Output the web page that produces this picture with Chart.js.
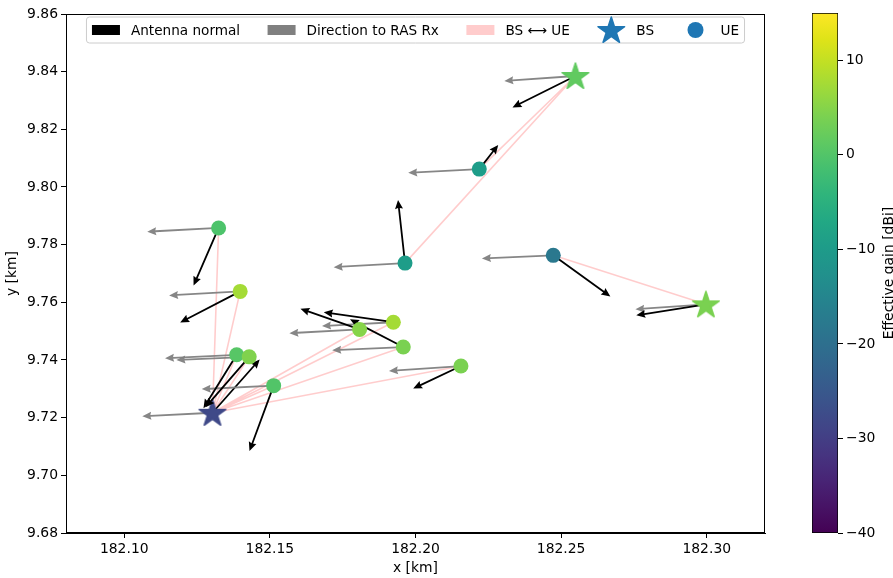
<!DOCTYPE html>
<html>
<head>
<meta charset="utf-8">
<script src="https://cdn.jsdelivr.net/npm/chart.js@4.4.1/dist/chart.umd.min.js"></script>
<style>
  html, body { margin: 0; padding: 0; background: #fff; }
  #wrap { position: relative; width: 893px; height: 578px; }
  #main { position: absolute; left: 0; top: 0; }
  #cbar { position: absolute; left: 780px; top: 0; }
</style>
</head>
<body>
<div id="wrap">
  <canvas id="main" width="780" height="578"></canvas>
  <canvas id="cbar" width="113" height="578"></canvas>
</div>
<script>
// ---- data (km / dBi) ----
const xTicks = [182.10, 182.15, 182.20, 182.25, 182.30];
const yTicks = [9.68, 9.70, 9.72, 9.74, 9.76, 9.78, 9.80, 9.82, 9.84, 9.86];
const cbarTicks = [-40, -30, -20, -10, 0, 10];

const bsX = [182.1303, 182.2549, 182.2997];
const bsY = [9.7217, 9.8385, 9.7593];
const bsGain = [-28, 1.5, 4];
const bsNormU = [0.0162, -0.0216, -0.0239];
const bsNormV = [0.0185, -0.0109, -0.0038];
const bsRasU = [-0.0241, -0.0244, -0.0242];
const bsRasV = [-0.0012, -0.0017, -0.0017];

const ueX = [182.1324, 182.1398, 182.1386, 182.1429, 182.1513, 182.1808, 182.1924, 182.1958, 182.2156, 182.1964, 182.2219, 182.2473];
const ueY = [9.7858, 9.7638, 9.7418, 9.7411, 9.7311, 9.7506, 9.7531, 9.7445, 9.7379, 9.7736, 9.8062, 9.7763];
const ueGain = [-0.5, 7.5, 0.5, 4.5, 0, 5, 7.5, 4, 4, -9.5, -9.5, -18];
const ueBs = [0, 0, 0, 0, 0, 0, 0, 0, 0, 1, 1, 2];
const ueNormU = [-0.0086, -0.0206, -0.0114, -0.0150, -0.0083, -0.0203, -0.0239, -0.0183, -0.0164, -0.0024, 0.0065, 0.0196];
const ueNormV = [-0.0200, -0.0108, -0.0185, -0.0175, -0.0227, 0.0072, 0.0035, 0.0096, -0.0078, 0.0219, 0.0084, -0.0143];
const ueRasU = [-0.0245, -0.0244, -0.0246, -0.0250, -0.0247, -0.0241, -0.0245, -0.0244, -0.0247, -0.0245, -0.0244, -0.0245];
const ueRasV = [-0.0013, -0.0014, -0.0012, -0.0011, -0.0012, -0.0013, -0.0013, -0.0011, -0.0017, -0.0014, -0.0013, -0.0011];

const cbarMin = -40, cbarMax = 15;

// ---- helpers ----
const VIR = ['#440154','#471365','#482475','#463480','#414487','#3b528b','#355f8d','#2f6c8e','#2a788e','#25848e',
             '#21918c','#1e9c89','#22a884','#2fb47c','#44bf70','#5ec962','#7ad151','#9bd93c','#bddf26','#dfe318','#fde725'];
function hex2rgb(h) { return [1, 3, 5].map(i => parseInt(h.substr(i, 2), 16)); }
function viridis(v) {
  let t = (v - cbarMin) / (cbarMax - cbarMin);
  t = Math.max(0, Math.min(1, t)) * (VIR.length - 1);
  const i = Math.min(Math.floor(t), VIR.length - 2), f = t - i;
  const a = hex2rgb(VIR[i]), b = hex2rgb(VIR[i + 1]);
  return 'rgb(' + a.map((c, k) => Math.round(c + (b[k] - c) * f)).join(',') + ')';
}

function starPath(ctx, cx, cy, R) {
  const r = R * 0.382;
  ctx.beginPath();
  for (let k = 0; k < 10; k++) {
    const ang = -Math.PI / 2 + k * Math.PI / 5;
    const rr = k % 2 === 0 ? R : r;
    const px = cx + rr * Math.cos(ang), py = cy + rr * Math.sin(ang);
    k === 0 ? ctx.moveTo(px, py) : ctx.lineTo(px, py);
  }
  ctx.closePath();
}
function fillStar(ctx, cx, cy, R, color) {
  starPath(ctx, cx, cy, R);
  ctx.fillStyle = color;
  ctx.fill();
  ctx.strokeStyle = color;
  ctx.lineWidth = 1.5;
  ctx.lineJoin = 'round';
  ctx.stroke();
}
function starImage(color) {
  const c = document.createElement('canvas');
  c.width = 34; c.height = 34;
  fillStar(c.getContext('2d'), 17, 18, 14, color);
  return c;
}

function drawArrow(ctx, x0, y0, x1, y1, color) {
  const dx = x1 - x0, dy = y1 - y0, L = Math.hypot(dx, dy);
  if (L < 1) return;
  const ux = dx / L, uy = dy / L, px = -uy, py = ux;
  const hw = 0.9, hl = Math.min(9, L), ha = hl * 0.9, hh = 4;
  const pts = [
    [x0 + px * hw, y0 + py * hw],
    [x1 - ux * ha + px * hw, y1 - uy * ha + py * hw],
    [x1 - ux * hl + px * hh, y1 - uy * hl + py * hh],
    [x1, y1],
    [x1 - ux * hl - px * hh, y1 - uy * hl - py * hh],
    [x1 - ux * ha - px * hw, y1 - uy * ha - py * hw],
    [x0 - px * hw, y0 - py * hw]
  ];
  ctx.beginPath();
  pts.forEach((p, i) => i ? ctx.lineTo(p[0], p[1]) : ctx.moveTo(p[0], p[1]));
  ctx.closePath();
  ctx.fillStyle = color;
  ctx.fill();
}

Chart.defaults.font.family = 'DejaVu Sans';
Chart.defaults.font.size = 13.9;
Chart.defaults.color = '#000';

// BS <-> UE link segments, broken by empty points
const links = [];
ueX.forEach((x, i) => {
  links.push({ x: bsX[ueBs[i]], y: bsY[ueBs[i]] }, { x: x, y: ueY[i] }, { x: null, y: null });
});

const GRAY = 'rgba(128,128,128,0.95)';
function drawQuivers(chart, xs0, ys0, us, vs, color) {
  const xs = chart.scales.x, ys = chart.scales.y, ctx = chart.ctx;
  xs0.forEach((x, i) => drawArrow(ctx,
    xs.getPixelForValue(x), ys.getPixelForValue(ys0[i]),
    xs.getPixelForValue(x + us[i]), ys.getPixelForValue(ys0[i] + vs[i]), color));
}

// BS arrows go under the star markers, UE arrows above them (but under UE dots)
const arrowPlugin = {
  id: 'arrows',
  beforeDatasetDraw(chart, args) {
    if (chart.data.datasets[args.index].label !== 'BS') return;
    chart.ctx.save();
    drawQuivers(chart, bsX, bsY, bsRasU, bsRasV, GRAY);
    drawQuivers(chart, bsX, bsY, bsNormU, bsNormV, '#000');
    chart.ctx.restore();
  },
  afterDatasetDraw(chart, args) {
    if (chart.data.datasets[args.index].label !== 'BS') return;
    chart.ctx.save();
    drawQuivers(chart, ueX, ueY, ueRasU, ueRasV, GRAY);
    drawQuivers(chart, ueX, ueY, ueNormU, ueNormV, '#000');
    chart.ctx.restore();
  }
};

const framePlugin = {
  id: 'frame',
  afterDraw(chart) {
    const { left, right, top, bottom } = chart.chartArea;
    const ctx = chart.ctx;
    ctx.save();
    ctx.strokeStyle = '#000';
    ctx.lineWidth = 1;
    ctx.strokeRect(Math.round(left) + 0.5, Math.round(top) + 0.5, Math.round(right - left) - 1, Math.round(bottom - top) - 1);
    ctx.restore();
  }
};

const legendItems = [
  { kind: 'rect', color: '#000', text: 'Antenna normal' },
  { kind: 'rect', color: '#808080', text: 'Direction to RAS Rx' },
  { kind: 'rect', color: '#ffcccc', text: 'BS \u27F7 UE' },
  { kind: 'star', color: '#1f77b4', text: 'BS' },
  { kind: 'circle', color: '#1f77b4', text: 'UE' }
];
const legendPlugin = {
  id: 'mplLegend',
  afterDraw(chart) {
    const ctx = chart.ctx, area = chart.chartArea;
    const fs = 13.6, handle = 28, tpad = 11, colsp = 27.5, pad = 5.5;
    ctx.save();
    ctx.font = fs + 'px "DejaVu Sans"';
    let total = 0;
    legendItems.forEach((it, i) => {
      it.w = ctx.measureText(it.text).width;
      total += handle + tpad + it.w + (i ? colsp : 0);
    });
    const boxW = total + 2 * pad;
    const x0 = (area.left + area.right) / 2 - boxW / 2;
    const top = 17, h = 26, cy = top + h / 2;
    ctx.beginPath();
    if (ctx.roundRect) ctx.roundRect(x0, top, boxW, h, 3); else ctx.rect(x0, top, boxW, h);
    ctx.fillStyle = 'rgba(255,255,255,0.8)';
    ctx.fill();
    ctx.strokeStyle = '#cccccc';
    ctx.lineWidth = 1;
    ctx.stroke();
    let x = x0 + pad;
    ctx.textBaseline = 'middle';
    ctx.textAlign = 'left';
    legendItems.forEach(it => {
      if (it.kind === 'rect') {
        ctx.fillStyle = it.color;
        ctx.fillRect(x, cy - 5, handle, 10);
      } else if (it.kind === 'star') {
        fillStar(ctx, x + handle / 2, cy + 1, 14, it.color);
      } else {
        ctx.fillStyle = it.color;
        ctx.beginPath();
        ctx.arc(x + handle / 2, cy, 8, 0, Math.PI * 2);
        ctx.fill();
      }
      ctx.fillStyle = '#000';
      ctx.fillText(it.text, x + handle + tpad, cy + 1);
      x += handle + tpad + it.w + colsp;
    });
    ctx.restore();
  }
};

const axisCommon = {
  grid: { display: true, drawOnChartArea: false, drawTicks: true, tickLength: 5, color: '#000' },
  border: { display: true, color: '#000', width: 1 }
};

new Chart(document.getElementById('main'), {
  type: 'scatter',
  data: {
    datasets: [
      {
        label: 'UE',
        data: ueX.map((x, i) => ({ x: x, y: ueY[i] })),
        backgroundColor: ueGain.map(viridis),
        pointRadius: 7.5, pointHoverRadius: 7.5, borderWidth: 0,
        order: 0
      },
      {
        label: 'BS',
        data: bsX.map((x, i) => ({ x: x, y: bsY[i] })),
        pointStyle: bsGain.map(g => starImage(viridis(g))),
        pointRadius: 14, borderWidth: 0,
        order: 1
      },
      {
        label: 'BS \u27F7 UE',
        type: 'line',
        data: links,
        borderColor: 'rgba(255,0,0,0.2)',
        borderWidth: 1.6,
        pointRadius: 0,
        spanGaps: false,
        order: 2
      }
    ]
  },
  options: {
    responsive: false,
    animation: false,
    events: [],
    layout: { padding: { top: 13, right: 15, left: 0, bottom: 0 } },
    scales: {
      x: {
        type: 'linear', min: 182.08, max: 182.32,
        afterFit: s => { s.height = 45; },
        afterBuildTicks: s => { s.ticks = xTicks.map(v => ({ value: v })); },
        ticks: { callback: v => v.toFixed(2), maxRotation: 0, padding: 3 },
        title: { display: true, text: 'x [km]', padding: { top: 0, bottom: 1 } },
        ...axisCommon
      },
      y: {
        type: 'linear', min: 9.68, max: 9.86,
        afterFit: s => { s.width = 66; },
        afterBuildTicks: s => { s.ticks = yTicks.map(v => ({ value: v })); },
        ticks: { callback: v => v.toFixed(2), padding: 3 },
        title: { display: true, text: 'y [km]', padding: { top: 4, bottom: 0 } },
        ...axisCommon
      }
    },
    plugins: { legend: { display: false }, tooltip: { enabled: false } }
  },
  plugins: [arrowPlugin, framePlugin, legendPlugin]
});

// ---- colorbar ----
const cbarTitlePlugin = {
  id: 'cbarTitle',
  afterDraw(chart) {
    const ctx = chart.ctx, a = chart.chartArea;
    ctx.save();
    ctx.font = '13.9px "DejaVu Sans"';
    ctx.fillStyle = '#000';
    ctx.translate(112.5, (a.top + a.bottom) / 2);
    ctx.rotate(-Math.PI / 2);
    ctx.textAlign = 'center';
    ctx.textBaseline = 'alphabetic';
    ctx.fillText('Effective gain [dBi]', 0, 0);
    ctx.restore();
  }
};

new Chart(document.getElementById('cbar'), {
  type: 'bar',
  data: {
    labels: [''],
    datasets: [{
      data: [[cbarMin, cbarMax]],
      backgroundColor: c => {
        const chart = c.chart;
        if (!chart.chartArea) return '#21918c';
        const ys = chart.scales.y;
        const g = chart.ctx.createLinearGradient(0, ys.getPixelForValue(cbarMin), 0, ys.getPixelForValue(cbarMax));
        VIR.forEach((col, i) => g.addColorStop(i / (VIR.length - 1), col));
        return g;
      },
      borderColor: '#000',
      borderWidth: 1,
      borderSkipped: false,
      barPercentage: 1,
      categoryPercentage: 1
    }]
  },
  options: {
    responsive: false,
    animation: false,
    events: [],
    layout: { padding: { left: 32, top: 13, bottom: 45, right: 0 } },
    scales: {
      x: { display: false },
      y: {
        position: 'right', min: cbarMin, max: cbarMax,
        afterFit: s => { s.width = 55; },
        afterBuildTicks: s => { s.ticks = cbarTicks.map(v => ({ value: v })); },
        ticks: { callback: v => String(v).replace('-', '\u2212'), padding: 3 },
        grid: { display: true, drawOnChartArea: false, drawTicks: true, tickLength: 5, color: '#000' },
        border: { display: false }
      }
    },
    plugins: { legend: { display: false }, tooltip: { enabled: false } }
  },
  plugins: [cbarTitlePlugin]
});
</script>
</body>
</html>
